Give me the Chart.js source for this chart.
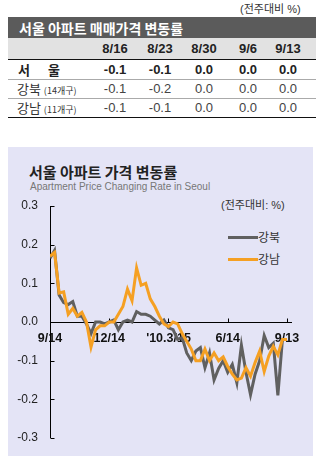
<!DOCTYPE html>
<html><head><meta charset="utf-8">
<script src="https://cdn.jsdelivr.net/npm/chart.js@4.4.0/dist/chart.umd.min.js"></script>
<style>
html,body{margin:0;padding:0;background:#fff;width:326px;height:462px;overflow:hidden;font-family:"Liberation Sans","Noto Sans CJK KR",sans-serif;}
.abs{position:absolute;white-space:nowrap;}
#panel{position:absolute;left:8px;top:147px;width:305px;height:309px;background:#e4e4f6;}
#cv{position:absolute;left:0;top:0;}
.line{position:absolute;height:0;}
</style></head>
<body>
<div class="abs" style="left:240px;top:0px;font-size:11px;color:#333;">(전주대비 %)</div>
<div class="abs" style="left:8px;top:17px;width:308px;height:21px;background:#5b5b5b;"></div>
<div class="abs" style="left:19px;top:18px;font-size:14px;font-weight:bold;color:#fff;font-family:'Noto Sans CJK KR';line-height:20px;">서울 아파트 매매가격 변동률</div>
<div class="abs" style="left:8px;top:38px;width:308px;height:22px;background:#e2e2e2;"></div>
<div id="tbl"></div>
<div class="line" style="left:8px;top:59px;width:308px;border-top:1.5px solid #111;"></div>
<div class="line" style="left:8px;top:79px;width:308px;border-top:1px solid #aaa;"></div>
<div class="line" style="left:8px;top:98px;width:308px;border-top:1px solid #aaa;"></div>
<div class="line" style="left:8px;top:117px;width:308px;border-top:1.5px solid #111;"></div>
<div class="abs" style="left:18px;top:61px;font-size:13px;font-weight:bold;color:#222;font-family:'Noto Sans CJK KR';line-height:18px;">서</div>
<div class="abs" style="left:48px;top:61px;font-size:13px;font-weight:bold;color:#222;font-family:'Noto Sans CJK KR';line-height:18px;">울</div>
<div class="abs" style="left:17px;top:80px;font-size:13px;color:#333;font-family:'Noto Sans CJK KR';line-height:18px;">강북 <span style="font-size:9px;">(14개구)</span></div>
<div class="abs" style="left:17px;top:99px;font-size:13px;color:#333;font-family:'Noto Sans CJK KR';line-height:18px;">강남 <span style="font-size:9px;">(11개구)</span></div>

<div id="panel"></div>
<div class="abs" style="left:29px;top:163px;font-size:15px;font-weight:bold;color:#222;font-family:'Noto Sans CJK KR';line-height:18px;">서울 아파트 가격 변동률</div>
<div class="abs" style="left:30px;top:181px;font-size:10px;color:#777;">Apartment Price Changing Rate in Seoul</div>
<div class="abs" style="left:221px;top:196px;font-size:11px;color:#333;">(전주대비: %)</div>
<div class="abs" style="left:228px;top:236px;width:30px;height:3px;background:#606060;"></div>
<div class="abs" style="left:258px;top:229px;font-size:12px;color:#333;font-family:'Noto Sans CJK KR';line-height:16px;">강북</div>
<div class="abs" style="left:228px;top:258px;width:30px;height:3px;background:#f5a023;"></div>
<div class="abs" style="left:258px;top:251px;font-size:12px;color:#333;font-family:'Noto Sans CJK KR';line-height:16px;">강남</div>
<canvas id="cv" width="326" height="462"></canvas>
<script>
// Table data
const tableDates = ["8/16","8/23","8/30","9/6","9/13"];
const tableSeoul = ["-0.1","-0.1","0.0","0.0","0.0"];
const tableGangbuk = ["-0.1","-0.2","0.0","0.0","0.0"];
const tableGangnam = ["-0.1","-0.1","0.0","0.0","0.0"];

// Chart data (weekly, 2009-09-14 .. 2010-09-13)
const tickLabels = ["9/14","12/14","'10.3/15","6/14","9/13"];
const tickWeeks = [0,13,26,39,52];
const gangbuk = [0.165,0.185,0.07,0.05,0.045,0.053,0.015,0.015,-0.005,-0.03,0.0,0.0,-0.005,0.0,0.005,-0.02,0.0,0.005,0.0,0.027,0.02,0.02,0.015,0.005,-0.005,0.005,-0.015,-0.02,-0.045,-0.04,-0.08,-0.1,-0.075,-0.066,-0.118,-0.08,-0.15,-0.12,-0.1,-0.13,-0.11,-0.157,-0.06,-0.13,-0.188,-0.135,-0.1,-0.035,-0.066,-0.055,-0.19,-0.045,-0.045];
const gangnam = [0.17,0.18,0.075,0.078,0.02,0.035,0.015,0.025,0.0,-0.065,-0.02,-0.01,-0.01,0.0,0.0,0.02,0.04,0.085,0.055,0.14,0.095,0.1,0.06,0.04,0.015,-0.005,-0.012,0.0,-0.005,-0.03,-0.05,-0.07,-0.1,-0.1,-0.07,-0.1,-0.08,-0.1,-0.09,-0.115,-0.135,-0.15,-0.145,-0.118,-0.14,-0.105,-0.075,-0.128,-0.088,-0.063,-0.085,-0.045,-0.045];

// build table cells
const colX = [115,160,204,248,288];
const tbl = document.getElementById('tbl');
function cell(txt, x, top, bold, color){
  const d = document.createElement('div');
  d.className = 'abs';
  d.style.cssText = `left:${x-30}px;width:60px;text-align:center;top:${top}px;font-size:13px;line-height:18px;color:${color};font-weight:${bold?'bold':'normal'};`;
  d.textContent = txt;
  tbl.appendChild(d);
}
tableDates.forEach((t,i)=>cell(t,colX[i],40,true,'#222'));
tableSeoul.forEach((t,i)=>cell(t,colX[i],61,true,'#222'));
tableGangbuk.forEach((t,i)=>cell(t,colX[i],80,false,'#444'));
tableGangnam.forEach((t,i)=>cell(t,colX[i],99,false,'#444'));

const axisPlugin = {
  id:'axisPlugin',
  beforeDatasetsDraw(chart){
    const {ctx, chartArea, scales:{x,y}} = chart;
    ctx.save();
    ctx.strokeStyle = '#000';
    ctx.lineWidth = 1;
    const y0 = Math.round(y.getPixelForValue(0))+0.5;
    const xl = Math.round(chartArea.left)+0.5;
    ctx.beginPath();
    ctx.moveTo(xl, y.getPixelForValue(0.3));
    ctx.lineTo(xl, y.getPixelForValue(-0.3));
    ctx.moveTo(xl, y0);
    ctx.lineTo(chartArea.right, y0);
    y.ticks.forEach(t=>{
      const py = Math.round(y.getPixelForValue(t.value))+0.5;
      ctx.moveTo(xl, py); ctx.lineTo(xl+4, py);
    });
    tickWeeks.forEach(w=>{
      const px = Math.round(x.getPixelForValue(w))+0.5;
      ctx.moveTo(px, y0); ctx.lineTo(px, y0-4);
    });
    ctx.stroke();
    ctx.restore();
  }
};

new Chart(document.getElementById('cv'), {
  type:'line',
  data:{
    datasets:[
      {label:'강북', data:gangbuk.map((v,i)=>({x:i,y:v})), borderColor:'#606060', borderWidth:3, pointRadius:0, tension:0, order:2},
      {label:'강남', data:gangnam.map((v,i)=>({x:i,y:v})), borderColor:'#f5a023', borderWidth:3, pointRadius:0, tension:0, order:1}
    ]
  },
  options:{
    responsive:false, animation:false, devicePixelRatio:1,
    layout:{padding:{left:0,right:34,top:206,bottom:24}},
    plugins:{legend:{display:false}, tooltip:{enabled:false}},
    scales:{
      x:{type:'linear', min:0, max:53.1, position:{y:0},
        afterBuildTicks(s){ s.ticks = tickWeeks.map(v=>({value:v})); },
        ticks:{autoSkip:false, maxRotation:0, padding:9, color:'#111', font:{family:'Liberation Sans', size:12.5, weight:'bold'},
          callback(v){ const k = tickWeeks.indexOf(v); return k>=0 ? tickLabels[k] : ''; }},
        grid:{display:false, drawTicks:false}, border:{display:false}},
      y:{type:'linear', min:-0.3, max:0.3,
        afterFit(s){ s.width = 50; },
        ticks:{stepSize:0.1, padding:12, color:'#222', font:{family:'Liberation Sans', size:12},
          callback(v){ return (Math.round(v*10)/10).toFixed(1); }},
        grid:{display:false, drawTicks:false}, border:{display:false}}
    }
  },
  plugins:[axisPlugin]
});
</script>
</body></html>
